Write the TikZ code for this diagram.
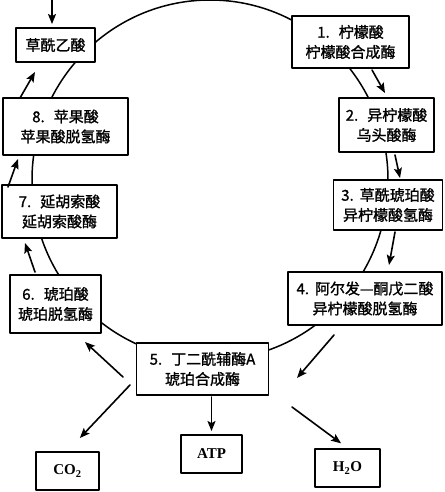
\documentclass[tikz,border=0pt]{standalone}
\usepackage{fontspec}
\newfontfamily\cjk[FakeBold=1.2]{Noto Sans CJK SC}
\newfontfamily\lat{Liberation Serif}
\usetikzlibrary{arrows.meta}

\begin{document}
\begin{tikzpicture}[
  x=1pt, y=-1pt,
  >={Stealth[length=10pt,width=8pt,inset=2pt]},
  line cap=round,
  line join=round,
  stage/.style={draw, line width=1.9pt, fill=white, align=center, inner sep=0pt},
  product/.style={stage, font=\lat\bfseries\fontsize{15}{17}\selectfont},
  flow/.style={->, line width=1.6pt},
  every node/.style={font=\cjk\fontsize{15}{20}\selectfont}
]
  \useasboundingbox (0,0) rectangle (444,492);

  % the cycle
  \draw[line width=1.5pt] (210,180) ellipse [x radius=178, y radius=180];

  % stages of the cycle
  \node[stage, minimum width=79pt,  minimum height=34pt] (oaa) at (55.5,45)   {草酰乙酸};
  \node[stage, minimum width=117pt, minimum height=52pt] (s1)  at (350.5,42)  {1.\hspace{0.6em}柠檬酸\\柠檬酸合成酶};
  \node[stage, minimum width=95pt,  minimum height=54pt] (s2)  at (386.5,125) {2.\hspace{0.6em}异柠檬酸\\乌头酸酶};
  \node[stage, minimum width=109pt, minimum height=50pt] (s3)  at (388,205)   {3.\hspace{0.4em}草酰琥珀酸\\异柠檬酸氢酶};
  \node[stage, minimum width=154pt, minimum height=53pt] (s4)  at (365,298.5) {4.\hspace{0.4em}阿尔发—酮戊二酸\\异柠檬酸脱氢酶};
  \node[stage, minimum width=132pt, minimum height=52pt] (s5)  at (202.5,369) {5.\hspace{0.6em}丁二酰辅酶A\\琥珀合成酶};
  \node[stage, minimum width=91pt,  minimum height=58pt] (s6)  at (55.5,304)  {6.\hspace{0.6em}琥珀酸\\琥珀脱氢酶};
  \node[stage, minimum width=115pt, minimum height=53pt] (s7)  at (59.5,211.5) {7.\hspace{0.6em}延胡索酸\\延胡索酸酶};
  \node[stage, minimum width=125pt, minimum height=57pt] (s8)  at (65.5,126.5) {8.\hspace{0.6em}苹果酸\\苹果酸脱氢酶};

  % products
  \node[product, minimum width=63pt, minimum height=38pt] (co2) at (67.5,471)  {CO\textsubscript{2}};
  \node[product, minimum width=61pt, minimum height=38pt] (atp) at (211.5,454) {ATP};
  \node[product, minimum width=65pt, minimum height=38pt] (h2o) at (347.5,468) {H\textsubscript{2}O};

  % arrow ends
  \coordinate (in0) at (52,0);
  \coordinate (a1) at (372,70);   \coordinate (b1) at (385,93);
  \coordinate (a2) at (395,155);  \coordinate (b2) at (400,178);
  \coordinate (a3) at (395,232);  \coordinate (b3) at (389,265);
  \coordinate (a4) at (334,335);  \coordinate (b4) at (297,378);
  \coordinate (a5) at (123,377);  \coordinate (b5) at (85,342);
  \coordinate (a6) at (35,272);   \coordinate (b6) at (25,243);
  \coordinate (a7) at (8,187);    \coordinate (b7) at (18,159);
  \coordinate (a8) at (20,98);    \coordinate (b8) at (35,72);
  \coordinate (c1) at (130,385);  \coordinate (c2) at (292,407);

  % arrows
  \draw[flow] (in0) -- (in0 |- oaa.north) [shorten >=3pt];
  \draw[flow] (a1) -- (b1);
  \draw[flow] (a2) -- (b2);
  \draw[flow] (a3) -- (b3);
  \draw[flow] (a4) -- (b4);
  \draw[flow] (a5) -- (b5);
  \draw[flow] (a6) -- (b6);
  \draw[flow] (a7) -- (b7);
  \draw[flow] (a8) -- (b8);
  \draw[flow, shorten <=1pt, shorten >=3pt] (s5.south -| atp) -- (atp.north);
  \draw[flow] (c1) -- (co2.north) [shorten >=18pt];
  \draw[flow] (c2) -- (h2o.north) [shorten >=8pt];
\end{tikzpicture}
\end{document}
